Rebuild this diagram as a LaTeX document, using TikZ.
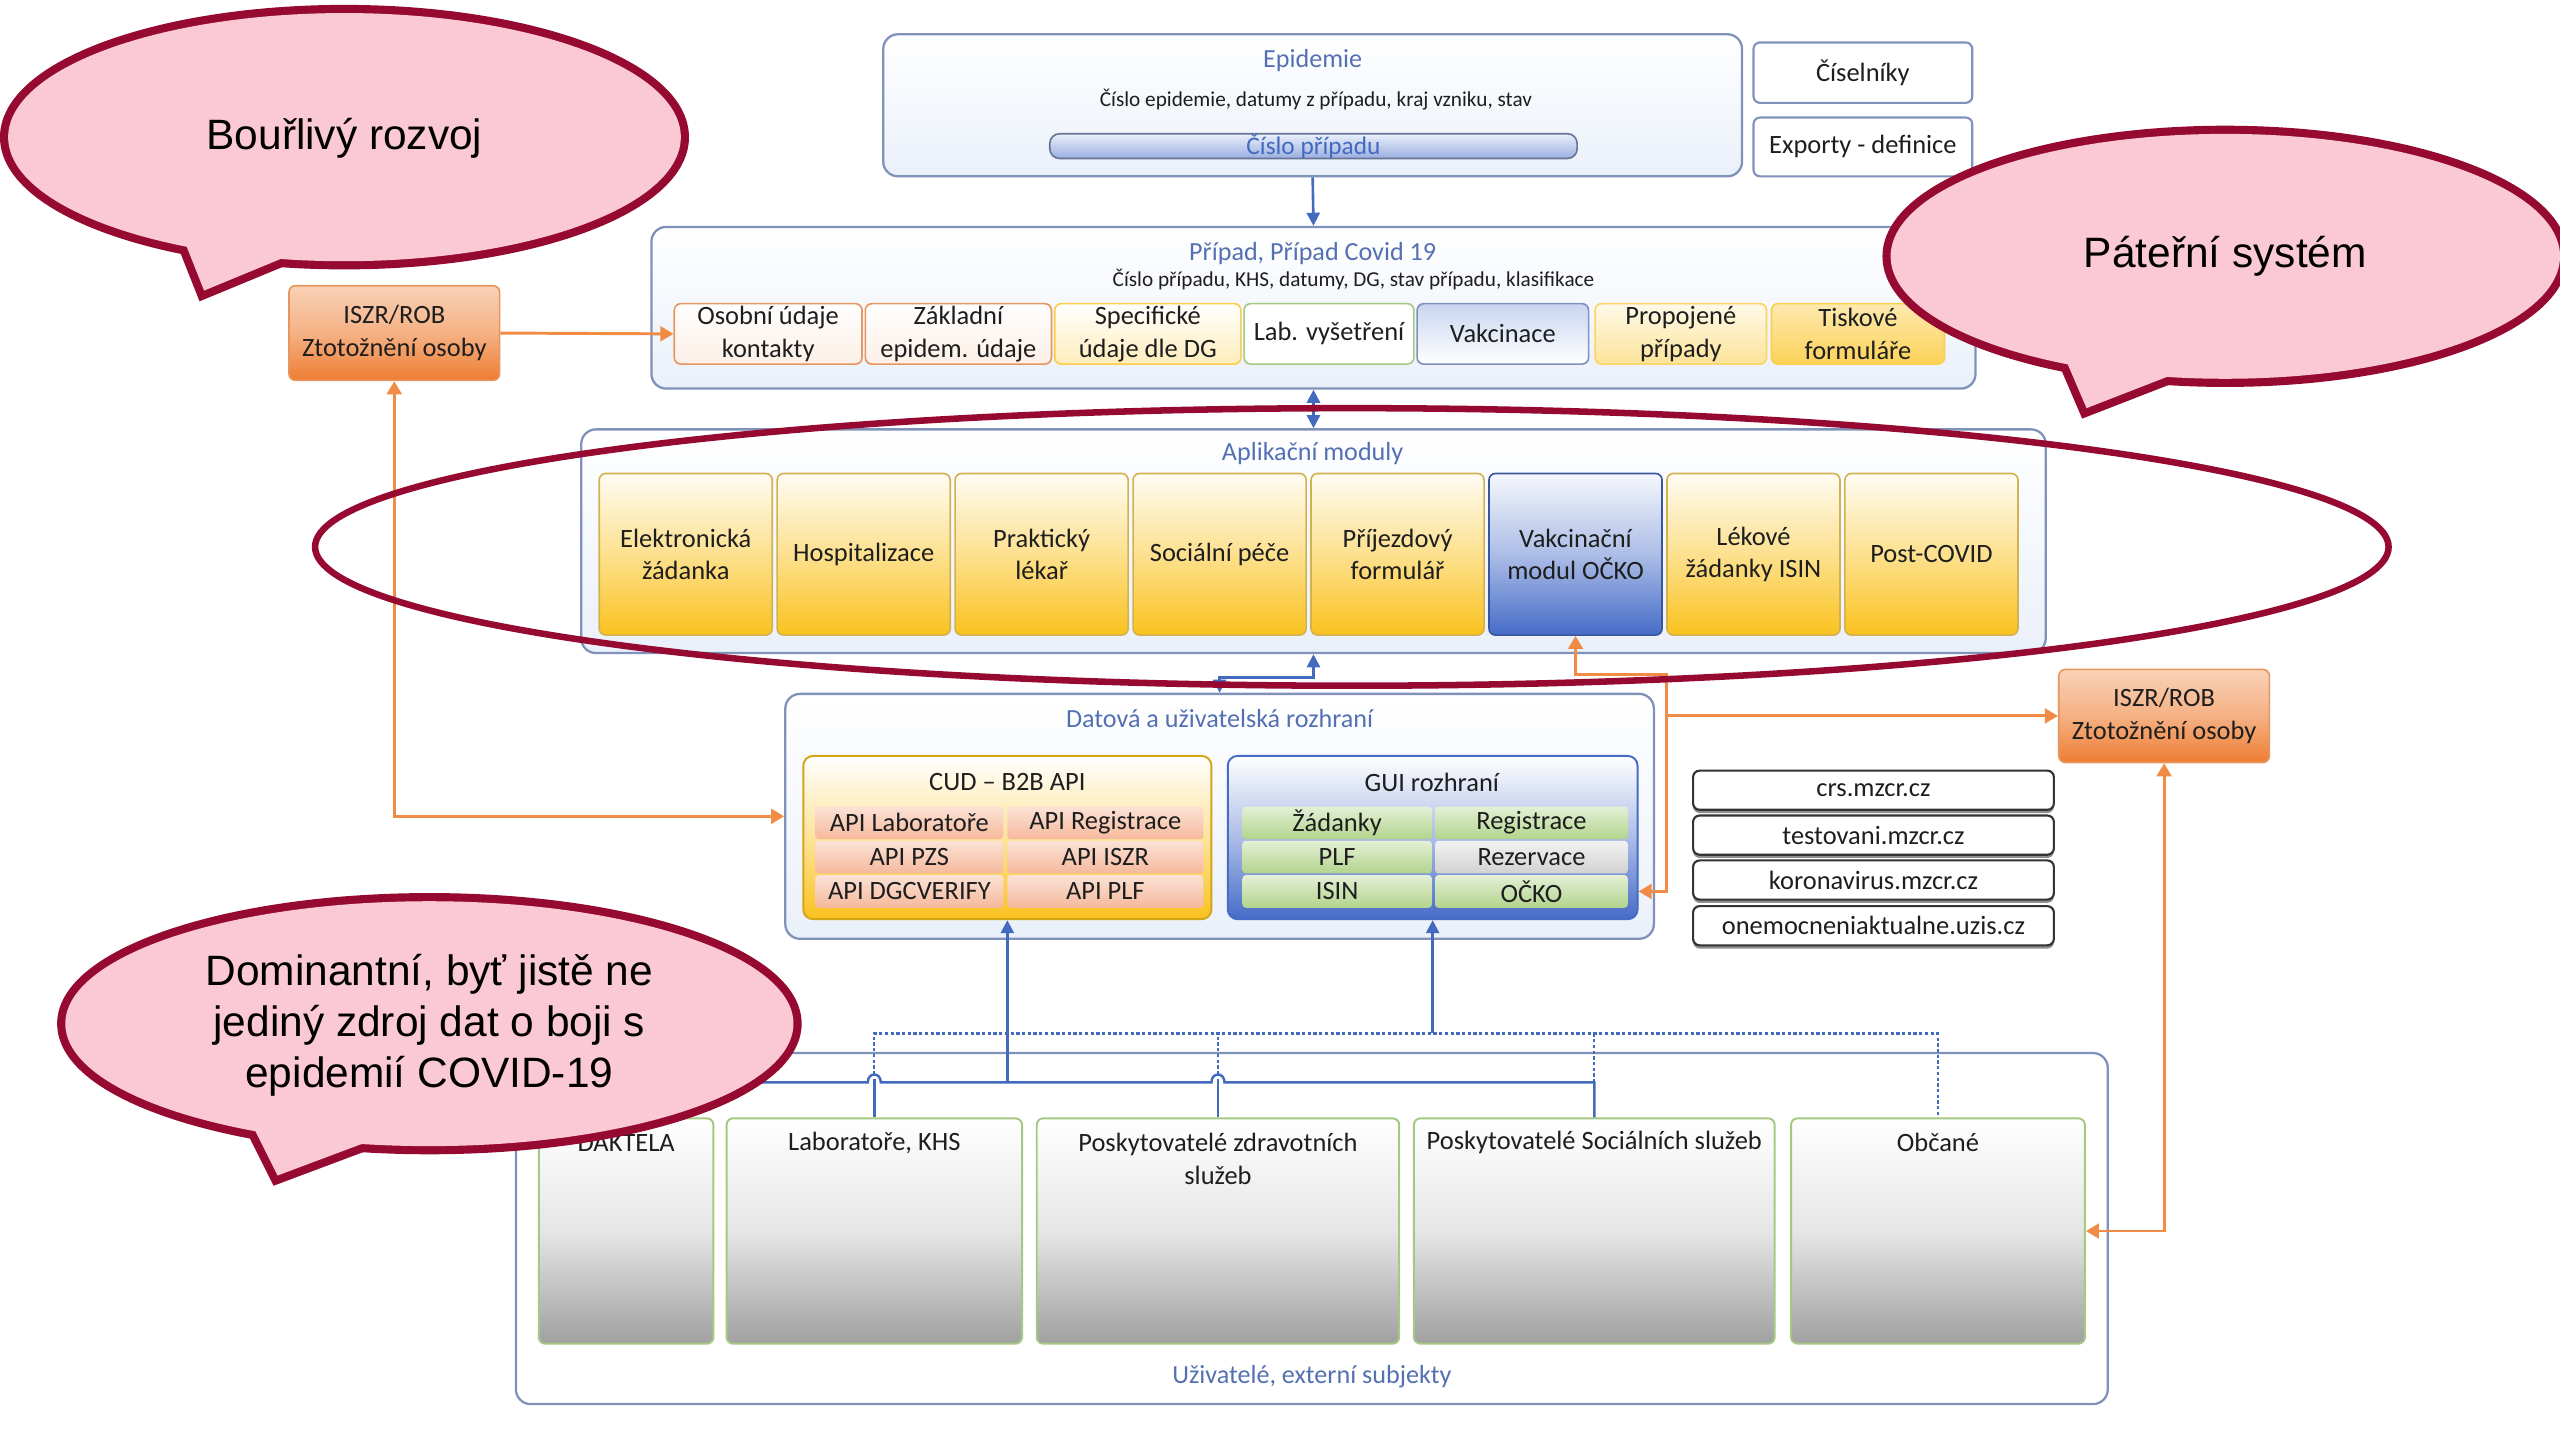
\documentclass[tikz,border=0pt]{standalone}
\usepackage{fontspec}
\setmainfont{Carlito}
\newfontfamily\arialf{Liberation Sans}
\usetikzlibrary{arrows.meta,shadows}
\definecolor{cBlueT}{RGB}{84,112,178}
\definecolor{cBorder}{RGB}{128,146,186}
\definecolor{cFillC}{RGB}{234,240,250}
\definecolor{cOrange}{RGB}{240,140,70}
\definecolor{cBlueA}{RGB}{68,106,190}
\definecolor{cYel}{RGB}{250,194,30}
\definecolor{cYelB}{RGB}{210,178,80}
\definecolor{cVak}{RGB}{70,108,200}
\definecolor{cSalmon}{RGB}{244,172,138}
\definecolor{cGreen}{RGB}{178,212,140}
\definecolor{cGreenB}{RGB}{165,200,130}
\definecolor{cGrayB}{RGB}{160,160,160}
\definecolor{cRed}{RGB}{150,10,50}
\definecolor{cPink}{RGB}{250,201,213}
\definecolor{cOrB}{RGB}{232,150,95}
\definecolor{cOrF}{RGB}{238,125,50}
\definecolor{cTxt}{RGB}{30,30,30}
\tikzset{
  cont/.style={draw=cBorder, line width=1.4pt, rounded corners=9pt, top color=white, bottom color=cFillC, inner sep=0pt},
  ttl/.style={text=cBlueT, font=\fontsize{16}{19}\selectfont, inner sep=0pt},
  subt/.style={text=cTxt, font=\fontsize{13}{15}\selectfont, inner sep=0pt},
  bx/.style={rounded corners=4pt, line width=1pt, align=center, inner sep=0pt, font=\fontsize{16.2}{20}\selectfont, text=cTxt},
  txt/.style={align=center, inner sep=0pt, font=\fontsize{16.2}{20}\selectfont, text=cTxt},
  rowor/.style={bx, draw=cOrB, top color=white, bottom color=cOrB!15},
  modY/.style={bx, draw=cYelB, top color=cYel!5, bottom color=cYel, middle color=cYel!50},
  modB/.style={bx, draw=cVak!80!black, top color=cVak!5, bottom color=cVak, middle color=cVak!45},
  iszr/.style={bx, draw=cOrB, top color=cOrF!35, bottom color=cOrF, middle color=cOrF!60},
  salm/.style={bx, rounded corners=2pt, draw=none, top color=cSalmon!35, bottom color=cSalmon!85},
  grn/.style={bx, rounded corners=2pt, draw=none, top color=cGreen!35, bottom color=cGreen},
  gry/.style={bx, rounded corners=2pt, draw=none, top color=black!5, bottom color=black!18},
  web/.style={bx, draw=black!80, line width=1.3pt, fill=white, drop shadow={shadow xshift=0pt, shadow yshift=-2pt, fill=black!55, opacity=0.8}},
  user/.style={bx, draw=cGreenB, line width=1.2pt, top color=white, bottom color=cGrayB, middle color=black!10},
  barrow/.style={draw=cBlueA, line width=1.6pt, -{Triangle[width=8pt,length=8pt]}},
  barrowtwo/.style={draw=cBlueA, line width=1.6pt, {Triangle[width=8pt,length=8pt]}-{Triangle[width=8pt,length=8pt]}},
  oarrow/.style={draw=cOrange, line width=1.8pt, -{Triangle[width=9pt,length=8pt]}},
  oarrowtwo/.style={draw=cOrange, line width=1.8pt, {Triangle[width=9pt,length=8pt]}-{Triangle[width=9pt,length=8pt]}},
  bline/.style={draw=cBlueA, line width=1.5pt},
  bdot/.style={draw=cBlueA, line width=1.4pt, dash pattern=on 2pt off 1.5pt},
  bubtxt/.style={align=center, inner sep=0pt, font=\arialf\fontsize{26}{31}\selectfont, text=black}
}
\begin{document}
\begin{tikzpicture}[x=1pt,y=-1pt]
\useasboundingbox (0,0) rectangle (1568,882);
\clip (0,0) rectangle (1568,882);
\fill[white] (0,0) rectangle (1568,882);

% ---------- Epidemie ----------
\node[cont, minimum width=526pt, minimum height=87pt] (epi) at (804,64.5) {};
\node[ttl] (epiT) at (804,37) {Epidemie};
\node[subt] (epiS) at (806,61) {Číslo epidemie, datumy z případu, kraj vzniku, stav};
\node[bx, rounded corners=6pt, draw=cBorder!80!black, top color=cFillC, bottom color=cVak!55, minimum width=323pt, minimum height=15pt, text=cBlueA, font=\fontsize{15.5}{16}\selectfont] (bar) at (804.5,89.5) {Číslo případu};
\node[bx, draw=cBorder, line width=1.3pt, fill=white, minimum width=134pt, minimum height=37pt] (cis) at (1141,44.5) {Číselníky};
\node[bx, draw=cBorder, line width=1.3pt, fill=white, minimum width=134pt, minimum height=36pt] (exp) at (1141,90) {Exporty - definice};

% ---------- Pripad ----------
\node[cont, minimum width=811pt, minimum height=99pt] (pri) at (804.5,188.5) {};
\node[ttl] (priT) at (804,155) {Případ, Případ Covid 19};
\node[subt] (priS) at (829,171) {Číslo případu, KHS, datumy, DG, stav případu, klasifikace};
\node[rowor, minimum width=115pt, minimum height=37pt] (osob) at (470.5,204.5) {Osobní údaje\\kontakty};
\node[rowor, minimum width=114pt, minimum height=37pt] (zakl) at (587,204.5) {Základní\\epidem. údaje};
\node[bx, draw=cYel!80, top color=white, bottom color=cYel!30, minimum width=114pt, minimum height=37pt] (spec) at (703,204.5) {Specifické\\údaje dle DG};
\node[bx, draw=cGreenB, fill=white, minimum width=104pt, minimum height=37pt] (labv) at (814,204.5) {Lab. vyšetření};
\node[bx, draw=cBorder, top color=cFillC!80!cVak, bottom color=white, minimum width=105pt, minimum height=37pt] (vakc) at (920.5,204.5) {Vakcinace};
\node[bx, draw=cYel!70, top color=cYel!10, bottom color=cYel!45, minimum width=105pt, minimum height=37pt] (prop) at (1029.5,204.5) {Propojené\\případy};
\node[bx, draw=cYel!80, top color=cYel!35, bottom color=cYel!75, minimum width=106pt, minimum height=37pt] (tisk) at (1138,204.5) {Tiskové\\formuláře};

\node[iszr, minimum width=129pt, minimum height=58pt] (iszrL) at (241.5,204) {ISZR/ROB\\Ztotožnění osoby};

% ---------- Aplikacni moduly ----------
\node[cont, minimum width=897pt, minimum height=137pt] (apl) at (804.5,331.5) {};
\node[ttl] (aplT) at (804,278) {Aplikační moduly};
\node[modY, minimum width=106pt, minimum height=99pt] (m1) at (420,339.5) {Elektronická\\žádanka};
\node[modY, minimum width=106pt, minimum height=99pt] (m2) at (529,339.5) {Hospitalizace};
\node[modY, minimum width=106pt, minimum height=99pt] (m3) at (638,339.5) {Praktický\\lékař};
\node[modY, minimum width=106pt, minimum height=99pt] (m4) at (747,339.5) {Sociální péče};
\node[modY, minimum width=106pt, minimum height=99pt] (m5) at (856,339.5) {Příjezdový\\formulář};
\node[modB, minimum width=106pt, minimum height=99pt] (m6) at (965,339.5) {Vakcinační\\modul OČKO};
\node[modY, minimum width=106pt, minimum height=99pt] (m7) at (1074,339.5) {Lékové\\žádanky ISIN};
\node[modY, minimum width=106pt, minimum height=99pt] (m8) at (1183,339.5) {Post-COVID};

% ---------- Datova a uzivatelska rozhrani ----------
\node[cont, minimum width=532pt, minimum height=150pt] (dat) at (747,500) {};
\node[ttl] (datT) at (747,440) {Datová a uživatelská rozhraní};
\node[bx, rounded corners=6pt, draw=cYel!85!black, line width=1.2pt, top color=white, bottom color=cYel, middle color=cYel!45, minimum width=250pt, minimum height=100pt] (cud) at (617,513) {};
\node[txt] (cudT) at (617,479) {CUD – B2B API};
\node[salm, minimum width=115pt, minimum height=20pt] (c11) at (557,504) {API Laboratoře};
\node[salm, minimum width=120pt, minimum height=20pt] (c12) at (677,504) {API Registrace};
\node[salm, minimum width=115pt, minimum height=20pt] (c21) at (557,525) {API PZS};
\node[salm, minimum width=120pt, minimum height=20pt] (c22) at (677,525) {API ISZR};
\node[salm, minimum width=115pt, minimum height=20pt] (c31) at (557,546) {API DGCVERIFY};
\node[salm, minimum width=120pt, minimum height=20pt] (c32) at (677,546) {API PLF};

\node[bx, rounded corners=6pt, draw=cVak, line width=1.2pt, top color=white, bottom color=cVak, middle color=cVak!45, minimum width=251pt, minimum height=100pt] (gui) at (877.5,513) {};
\node[txt] (guiT) at (877,479) {GUI rozhraní};
\node[grn, minimum width=116pt, minimum height=20pt] (g11) at (819,504) {Žádanky};
\node[grn, minimum width=118pt, minimum height=20pt] (g12) at (938,504) {Registrace};
\node[grn, minimum width=116pt, minimum height=20pt] (g21) at (819,525) {PLF};
\node[gry, minimum width=118pt, minimum height=20pt] (g22) at (938,525) {Rezervace};
\node[grn, minimum width=116pt, minimum height=20pt] (g31) at (819,546) {ISIN};
\node[grn, minimum width=118pt, minimum height=20pt] (g32) at (938,546) {OČKO};

% ---------- Web pages ----------
\node[web, minimum width=221pt, minimum height=24pt] (w1) at (1147.5,484) {crs.mzcr.cz};
\node[web, minimum width=221pt, minimum height=24pt] (w2) at (1147.5,511.5) {testovani.mzcr.cz};
\node[web, minimum width=221pt, minimum height=24pt] (w3) at (1147.5,539) {koronavirus.mzcr.cz};
\node[web, minimum width=221pt, minimum height=24pt] (w4) at (1147.5,567) {onemocneniaktualne.uzis.cz};

\node[iszr, minimum width=129pt, minimum height=57pt] (iszrR) at (1325.5,438.5) {ISZR/ROB\\Ztotožnění osoby};

% ---------- Uzivatele ----------
\node[cont, minimum width=975pt, minimum height=215pt, top color=white, bottom color=white] (uziv) at (803.5,752.5) {};
\node[ttl] (uzivT) at (803.5,843) {Uživatelé, externí subjekty};
\node[user, minimum width=107pt, minimum height=138pt] (dak) at (383.5,754) {};
\node[user, minimum width=181pt, minimum height=138pt] (lab) at (535.5,754) {};
\node[user, minimum width=222pt, minimum height=138pt] (pzd) at (746,754) {};
\node[user, minimum width=221pt, minimum height=138pt] (soc) at (976.5,754) {};
\node[user, minimum width=180pt, minimum height=138pt] (obc) at (1187,754) {};
\node[txt] (dakT) at (383.5,700) {DAKTELA};
\node[txt] (labT) at (535.5,700) {Laboratoře, KHS};
\node[txt] (pzdT) at (746,710) {Poskytovatelé zdravotních\\služeb};
\node[txt] (socT) at (976.5,700) {Poskytovatelé Sociálních služeb};
\node[txt] (obcT) at (1187,700) {Občané};

% ---------- Connectors ----------
\draw[barrow] (epi.south) -- (pri.north);
\draw[barrowtwo] (pri.south) -- (apl.north);
\coordinate (dj1) at (747,415);
\draw[barrowtwo] (dat.north) -- (dj1) -| (apl.south);
\draw[oarrow] (iszrL.east) -- (osob.west);
\draw[oarrowtwo] (iszrL.south) |- (dat.west);
\coordinate (oj1) at (1021,413);
\coordinate (oj2) at (1021,438.5);
\coordinate (oj3) at (1021,546);
\draw[oarrowtwo] (m6.south) |- (oj1) -- (oj3) -- (gui.east |- oj3);
\draw[oarrow] (oj2) -- (iszrR.west);
\draw[oarrowtwo] (iszrR.south) |- (obc.east);

\coordinate (sj) at (617,663);
\coordinate (dj) at (877.5,633);
\draw[barrow] (sj) -- (cud.south);
\draw[barrow] (dj) -- (gui.south);
\coordinate (h1) at (535.5,633);
\coordinate (h2) at (746,633);
\coordinate (h3) at (976.5,633);
\draw[bdot] (535.5,658) -- (h1) -- (obc.north |- h1) -- (obc.north);
\draw[bdot] (746,658) -- (h2);
\draw[bdot] (976.5,663) -- (h3);
\draw[bline] (dak.north) -- (383.5,663) -- (531.5,663) .. controls (531.5,656.5) and (539.5,656.5) .. (539.5,663) -- (742,663) .. controls (742,656.5) and (750,656.5) .. (750,663) -- (976.5,663) -- (soc.north);
\draw[bline] (lab.north) -- (535.5,661);
\draw[bline] (pzd.north) -- (746,661);

% ---------- Big ellipse ----------
\draw[cRed, line width=4pt] (828,335) ellipse [x radius=635pt, y radius=85pt];

% ---------- Bubbles ----------
\draw[cRed, line width=10pt] (211,84) ellipse [x radius=206pt, y radius=76pt];
\draw[cRed, line width=10pt, line join=miter] (106,130) -- (125,178) -- (200,147) -- cycle;
\fill[cPink] (211,84) ellipse [x radius=206pt, y radius=76pt];
\fill[cPink] (106,130) -- (125,178) -- (200,147) -- cycle;
\node[bubtxt] (b1) at (211,85) {Bouřlivý rozvoj};

\draw[cRed, line width=10pt] (1363,157) ellipse [x radius=205pt, y radius=75pt];
\draw[cRed, line width=10pt, line join=miter] (1260,208) -- (1278,250) -- (1350,222) -- cycle;
\fill[cPink] (1363,157) ellipse [x radius=205pt, y radius=75pt];
\fill[cPink] (1260,208) -- (1278,250) -- (1350,222) -- cycle;
\node[bubtxt] (b2) at (1363,157) {Páteřní systém};

\draw[cRed, line width=10pt] (263,627) ellipse [x radius=223pt, y radius=75pt];
\draw[cRed, line width=10pt, line join=miter] (150,680) -- (170,720) -- (250,690) -- cycle;
\fill[cPink] (263,627) ellipse [x radius=223pt, y radius=75pt];
\fill[cPink] (150,680) -- (170,720) -- (250,690) -- cycle;
\node[bubtxt] (b3) at (263,628) {Dominantní, byť jistě ne\\jediný zdroj dat o boji s\\epidemií COVID-19};
\end{tikzpicture}
\end{document}
